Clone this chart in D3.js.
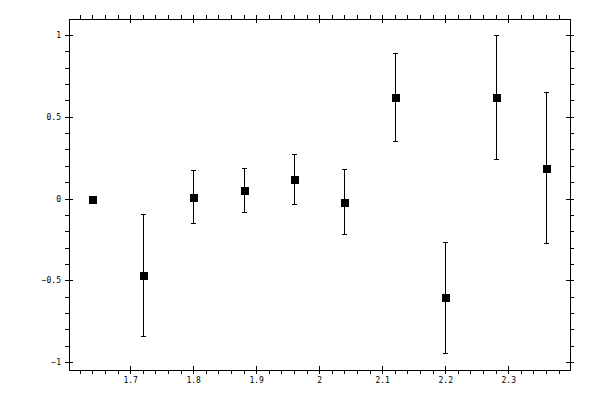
<!DOCTYPE html>
<html>
<head>
<meta charset="utf-8">
<script src="https://cdn.jsdelivr.net/npm/d3@7"></script>
<style>
body { margin: 0; background: #fff; }
svg { display: block; }
.axis path, .axis line { stroke: #000; stroke-width: 1; shape-rendering: crispEdges; }
.axis text { font-family: "DejaVu Sans Mono", monospace; font-size: 8px; fill: #000; }
</style>
</head>
<body>
<div class="mainviz"></div>
<script>
// measured points
var xVals = [1.64, 1.72, 1.80, 1.88, 1.96, 2.04, 2.12, 2.20, 2.28, 2.36];
var yVals = [0, -0.467, 0.01, 0.053, 0.12, -0.02, 0.622, -0.601, 0.622, 0.188];
var yLow  = [0, -0.84, -0.149, -0.081, -0.032, -0.22, 0.353, -0.944, 0.243, -0.275];
var yHigh = [0, -0.094, 0.176, 0.185, 0.271, 0.182, 0.891, -0.265, 1.0, 0.654];

// tick labels
var xTicks = [1.7, 1.8, 1.9, 2, 2.1, 2.2, 2.3];
var yTicks = [-1, -0.5, 0, 0.5, 1];

var width = 600, height = 400;
var frame = { left: 69, right: 570, top: 19, bottom: 370 };

var svg = d3.select(".mainviz").append("svg")
	.attr("width", width)
	.attr("height", height);

var x = d3.scaleLinear()
	.domain([1.603, 2.398])
	.range([frame.left, frame.right]);

var y = d3.scaleLinear()
	.domain([-1.049, 1.098])
	.range([frame.bottom, frame.top]);

var xMinor = d3.range(1.62, 2.39, 0.02).filter(function(v){ return Math.abs(v*10 - Math.round(v*10)) > 0.01; });
var yMinor = d3.range(-1, 1.05, 0.1).filter(function(v){ return Math.abs(v*2 - Math.round(v*2)) > 0.01; });

var data = xVals.map(function(d, i){
	return { x: d, y: yVals[i], lo: yLow[i], hi: yHigh[i] };
});

// minor ticks (outside only)
svg.append("g").attr("class","axis")
	.attr("transform","translate(0," + frame.bottom + ")")
	.call(d3.axisBottom(x).tickValues(xMinor).tickSize(4).tickFormat("").tickSizeOuter(0));
svg.append("g").attr("class","axis")
	.attr("transform","translate(0," + frame.top + ")")
	.call(d3.axisTop(x).tickValues(xMinor).tickSize(4).tickFormat("").tickSizeOuter(0));
svg.append("g").attr("class","axis")
	.attr("transform","translate(" + frame.left + ",0)")
	.call(d3.axisLeft(y).tickValues(yMinor).tickSize(4).tickFormat("").tickSizeOuter(0));
svg.append("g").attr("class","axis")
	.attr("transform","translate(" + frame.right + ",0)")
	.call(d3.axisRight(y).tickValues(yMinor).tickSize(4).tickFormat("").tickSizeOuter(0));

// major ticks, crossing the frame
var xb = svg.append("g").attr("class","axis x")
	.attr("transform","translate(0," + frame.bottom + ")")
	.call(d3.axisBottom(x).tickValues(xTicks).tickSizeOuter(0).tickFormat(d3.format("")));
xb.selectAll(".tick line").attr("y1", -4).attr("y2", 4);
xb.selectAll(".tick text").attr("y", 13).attr("dy", 0);

var xt = svg.append("g").attr("class","axis")
	.attr("transform","translate(0," + frame.top + ")")
	.call(d3.axisTop(x).tickValues(xTicks).tickSizeOuter(0).tickFormat(""));
xt.selectAll(".tick line").attr("y1", -4).attr("y2", 4);

var yl = svg.append("g").attr("class","axis y")
	.attr("transform","translate(" + frame.left + ",0)")
	.call(d3.axisLeft(y).tickValues(yTicks).tickSizeOuter(0).tickFormat(d3.format("")));
yl.selectAll(".tick line").attr("x1", -4).attr("x2", 4);
yl.selectAll(".tick text").attr("x", -8).attr("dy", "0.32em");

var yr = svg.append("g").attr("class","axis")
	.attr("transform","translate(" + frame.right + ",0)")
	.call(d3.axisRight(y).tickValues(yTicks).tickSizeOuter(0).tickFormat(""));
yr.selectAll(".tick line").attr("x1", -4).attr("x2", 4);

// frame
svg.append("rect")
	.attr("x", frame.left + 0.5).attr("y", frame.top + 0.5)
	.attr("width", frame.right - frame.left).attr("height", frame.bottom - frame.top)
	.attr("fill", "none").attr("stroke", "#000")
	.attr("shape-rendering", "crispEdges");

// error bars
var bars = svg.selectAll("g.err")
	.data(data.filter(function(d){ return d.hi !== d.lo; }))
	.enter().append("g")
	.attr("class","err")
	.attr("stroke","#000")
	.attr("shape-rendering","crispEdges");

bars.append("line")
	.attr("x1", function(d){ return Math.round(x(d.x)) + 0.5; })
	.attr("x2", function(d){ return Math.round(x(d.x)) + 0.5; })
	.attr("y1", function(d){ return y(d.hi); })
	.attr("y2", function(d){ return y(d.lo); });

bars.selectAll("line.cap")
	.data(function(d){ return [d.hi, d.lo].map(function(v){ return { x: d.x, v: v }; }); })
	.enter().append("line")
	.attr("class","cap")
	.attr("x1", function(d){ return Math.round(x(d.x)) - 2; })
	.attr("x2", function(d){ return Math.round(x(d.x)) + 3; })
	.attr("y1", function(d){ return Math.round(y(d.v)) + 0.5; })
	.attr("y2", function(d){ return Math.round(y(d.v)) + 0.5; });

// markers
svg.selectAll("rect.pt")
	.data(data)
	.enter().append("rect")
	.attr("class","pt")
	.attr("x", function(d){ return Math.round(x(d.x)) - 3; })
	.attr("y", function(d){ return Math.round(y(d.y)) - 3; })
	.attr("width", 8)
	.attr("height", 8)
	.attr("fill","#000")
	.attr("shape-rendering","crispEdges");
</script>
</body>
</html>
